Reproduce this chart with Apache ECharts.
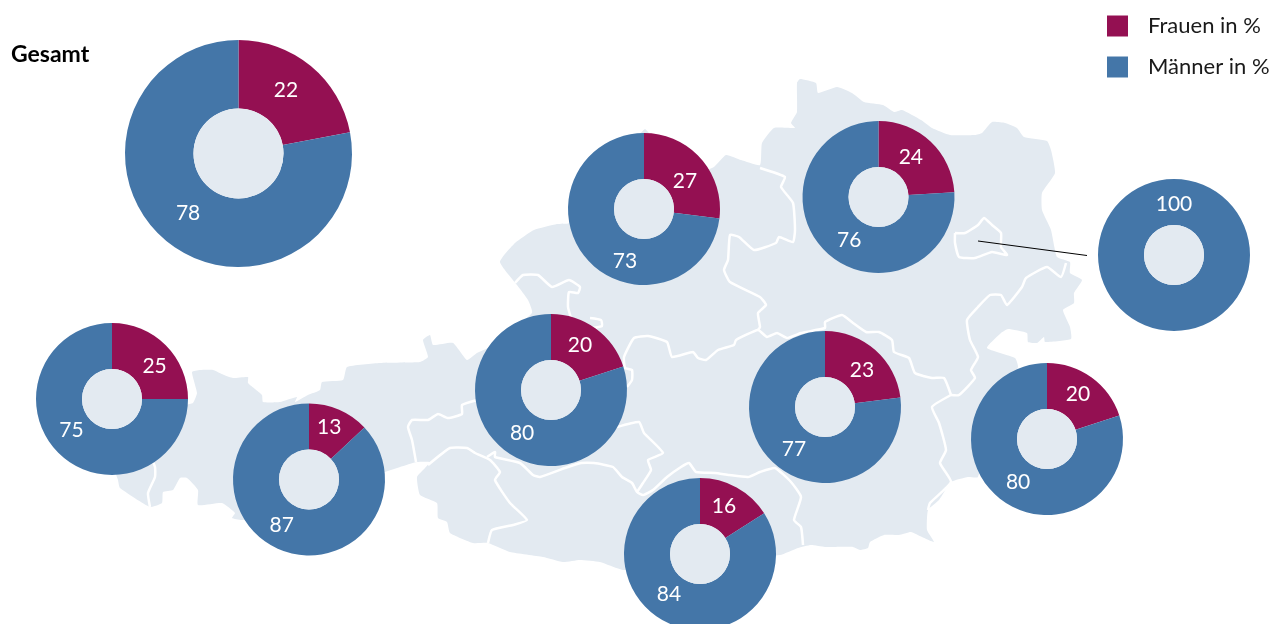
<!DOCTYPE html>
<html lang="de">
<head>
<meta charset="utf-8">
<title>Frauen und Männer in %</title>
<script src="https://cdn.jsdelivr.net/npm/echarts@6/dist/echarts.min.js"></script>
<style>
  html, body { margin: 0; height: 100%; background: #fff; }
  #chart { width: 1269px; height: 624px; }
</style>
</head>
<body>
<div id="chart"></div>
<script>
const regions = ["Gesamt", "Oberösterreich", "Niederösterreich", "Wien", "Vorarlberg", "Tirol", "Salzburg", "Steiermark", "Kärnten", "Burgenland"];
const frauen = [22, 27, 24, 0, 25, 13, 20, 23, 16, 20];
const maenner = [78, 73, 76, 100, 75, 87, 80, 77, 84, 80];
const legendNames = ["Frauen in %", "Männer in %"];

// pie layout, same order as regions
const pieCenters = [[238.5, 153.5], [644, 209], [878.5, 197], [1174, 255], [112, 399], [309, 479.5], [551, 390], [825, 407], [700, 554], [1047, 439]];
const pieRadii = [[45, 113.5], [30, 76], [30, 76], [30, 76], [30, 76], [30, 76], [30, 76], [30, 76], [30, 76], [30, 76]];
// nudges from the default inside label spot
const frauenLabelShift = [[-5, 0], [-1, 9], [-6, 1], [0, 0], [3, 7], [-2, -1], [-4, 1], [0, 5], [-3, 1], [-2, 1]];
const maennerLabelShift = [[2, -4], [23, 15], [9, 2], [0, 5], [-1, -8], [-5, -6], [4, -2], [6, 0], [-4, -9], [4, -2]];

const COLOR_F = "#941052";
const COLOR_M = "#4476a8";
const COLOR_MAP = "#e3eaf1";
const FONT = "Lato, 'Noto Sans', sans-serif";

// background map, traced by hand
const mapOutline = [
  [192, 372], [200, 370], [213, 370], [224, 375], [233, 378], [248, 377], [248, 383], [255, 389], [262, 395], [263, 402],
  [280, 402], [297, 397], [295, 402], [308, 395], [320, 390], [322, 382], [343, 380], [347, 367], [380, 363], [420, 362],
  [428, 357], [423, 340], [430, 335], [433, 345], [453, 343], [467, 360], [477, 353], [490, 347], [532, 313], [528, 300],
  [517, 285], [500, 262], [515, 243], [534, 230], [557, 224], [569, 223], [640, 134], [645, 129], [650, 134], [705, 170],
  [714, 167], [726, 155], [741, 160], [760, 165], [762, 143], [774, 128], [795, 128], [791, 123], [797, 112], [797, 83],
  [800, 79], [816, 83], [818, 93], [837, 87], [852, 93], [864, 102], [883, 105], [894, 112], [902, 110], [921, 120],
  [932, 128], [950, 135], [975, 135], [982, 133], [992, 122], [1005, 123], [1017, 128], [1024, 137], [1047, 141], [1051, 150],
  [1055, 173], [1042, 193], [1042, 210], [1051, 230], [1057, 257], [1070, 262], [1070, 273], [1082, 280], [1074, 293], [1074, 303],
  [1063, 310], [1070, 327], [1071, 339], [1045, 342], [1044, 337], [1037, 343], [1028, 342], [1027, 333], [1008, 329], [1001, 333],
  [987, 348], [1015, 358], [1018, 367], [978, 477], [968, 477], [951, 482], [939, 500], [928, 510], [927, 530], [934, 542],
  [922, 537], [911, 532], [899, 535], [884, 535], [870, 542], [868, 548], [860, 550], [853, 547], [835, 547], [825, 547],
  [811, 545], [798, 548], [780, 555], [624, 570], [600, 562], [580, 560], [563, 562], [543, 557], [510, 552], [488, 543],
  [473, 543], [450, 533], [447, 522], [438, 518], [437, 503], [420, 495], [417, 477], [425, 468], [430, 462], [417, 462],
  [400, 467], [385, 472], [243, 520], [232, 518], [235, 513], [222, 503], [198, 505], [198, 490], [187, 478], [180, 478],
  [173, 490], [163, 492], [162, 503], [150, 507], [120, 488], [118, 480], [116, 472], [186, 405], [193, 403], [197, 393]
];
const mapBorders = [
  // Vorarlberg / Tirol
  [[150, 507], [148, 493], [155, 477], [155, 467], [150, 455]],
  // Tirol / Salzburg
  [[477, 400], [462, 405], [462, 414], [448, 418], [438, 414], [428, 420], [412, 420], [408, 427], [412, 440], [416, 462]],
  // Osttirol
  [[428, 465], [450, 448], [467, 448], [475, 453], [490, 460], [500, 472], [495, 480], [510, 503], [527, 520], [513, 525], [492, 530], [488, 543]],
  // Kärnten north
  [[487, 457], [495, 452], [495, 457], [520, 463], [533, 475], [540, 477], [565, 468], [581, 463], [594, 463], [613, 467], [622, 477], [632, 483], [637, 492], [643, 495], [653, 490], [667, 477], [681, 467], [689, 463], [696, 472], [715, 473], [729, 475], [748, 477], [760, 472], [775, 468], [791, 482], [801, 497], [794, 520], [801, 527], [803, 545]],
  // Lungau
  [[617, 427], [639, 422], [644, 433], [663, 453], [648, 460], [651, 470], [643, 483], [637, 492]],
  // Salzburg / Steiermark, Steiermark / Niederösterreich
  [[627, 387], [632, 380], [632, 370], [625, 368], [624, 357], [634, 338], [648, 336], [667, 342], [672, 357], [693, 352], [698, 358], [706, 360], [718, 350], [734, 345], [736, 340], [758, 330], [767, 337], [777, 333], [787, 338], [801, 333], [825, 328], [825, 322], [842, 315], [853, 323], [866, 332], [879, 332], [892, 340], [894, 352], [909, 358], [915, 373], [932, 378], [944, 378], [951, 395]],
  // Steiermark / Burgenland
  [[951, 395], [932, 407], [939, 423], [946, 450], [940, 463], [951, 482], [930, 503], [928, 510]],
  // Niederösterreich / Burgenland
  [[951, 395], [959, 395], [975, 378], [971, 370], [978, 357], [970, 340], [967, 320], [978, 307], [990, 295], [1001, 295], [1007, 305], [1022, 287], [1026, 278], [1047, 267], [1061, 277], [1066, 263]],
  // Salzburg / Oberösterreich
  [[515, 283], [523, 275], [538, 275], [552, 287], [569, 280], [580, 287], [578, 293], [569, 292], [568, 307], [571, 318]],
  [[590, 318], [601, 320], [602, 326], [592, 328]],
  // Oberösterreich / Niederösterreich
  [[760, 168], [785, 177], [781, 187], [793, 203], [795, 230], [793, 242], [779, 237], [776, 243], [754, 250], [739, 237], [730, 235], [728, 260], [724, 270], [730, 282], [760, 297], [766, 305], [758, 313], [760, 327], [758, 330]],
  // Wien
  [[955, 233], [965, 233], [978, 225], [984, 218], [992, 225], [1001, 233], [1001, 247], [1007, 255], [992, 252], [975, 258], [959, 257], [955, 243], [955, 233]]
];
const leaderLine = [[978, 241], [1087, 255.5]];

const chart = echarts.init(document.getElementById("chart"));

const mapGraphics = [
  { type: "polygon", z: 0, silent: true, shape: { points: mapOutline, smooth: 0.15 }, style: { fill: COLOR_MAP } },
  ...mapBorders.map((points) => ({
    type: "polyline",
    z: 1,
    silent: true,
    shape: { points: points, smooth: 0.15 },
    style: { stroke: "#fff", lineWidth: 2.5, fill: null, lineJoin: "round" },
  })),
  {
    type: "polyline",
    z: 1,
    silent: true,
    shape: { points: leaderLine },
    style: { stroke: "#000", lineWidth: 1, fill: null },
  },
];

const series = [];
regions.forEach((region, i) => {
  // ring with the two shares
  series.push({
    name: region,
    type: "pie",
    center: pieCenters[i],
    radius: pieRadii[i],
    // the single 100 label sits on top of the ring
    startAngle: frauen[i] === 0 ? -90 : 90,
    silent: true,
    z: 3,
    label: {
      show: true,
      position: "inside",
      color: "#fff",
      fontFamily: FONT,
      fontSize: 21,
      fontWeight: 400,
      formatter: (p) => (p.value ? String(p.value) : ""),
    },
    labelLine: { show: false },
    labelLayout: (p) => {
      const shift = p.dataIndex === 0 ? frauenLabelShift[i] : maennerLabelShift[i];
      return { dx: shift[0], dy: shift[1] };
    },
    data: [
      { name: legendNames[0], value: frauen[i], itemStyle: { color: COLOR_F } },
      { name: legendNames[1], value: maenner[i], itemStyle: { color: COLOR_M } },
    ],
  });
  // hole is filled with the map colour, also off the map
  series.push({
    name: region + " hole",
    type: "pie",
    center: pieCenters[i],
    radius: [0, pieRadii[i][0]],
    silent: true,
    z: 4,
    label: { show: false },
    labelLine: { show: false },
    itemStyle: { color: COLOR_MAP },
    data: [{ name: "hole", value: 1 }],
  });
});

chart.setOption({
  animation: false,
  title: {
    text: "Gesamt",
    left: 11,
    top: 43,
    padding: 0,
    textStyle: { fontFamily: FONT, fontSize: 23, fontWeight: 700, color: "#000" },
  },
  legend: {
    data: [
      { name: legendNames[0], itemStyle: { color: COLOR_F } },
      { name: legendNames[1], itemStyle: { color: COLOR_M } },
    ],
    orient: "vertical",
    left: 1107,
    top: 15,
    padding: 0,
    icon: "rect",
    itemWidth: 21,
    itemHeight: 21,
    itemGap: 19,
    selectedMode: false,
    textStyle: { fontFamily: FONT, fontSize: 22, color: "#1a1a1a", padding: [0, 0, 0, 15] },
  },
  graphic: { elements: mapGraphics },
  series: series,
});

window.addEventListener("resize", () => chart.resize());
</script>
</body>
</html>
